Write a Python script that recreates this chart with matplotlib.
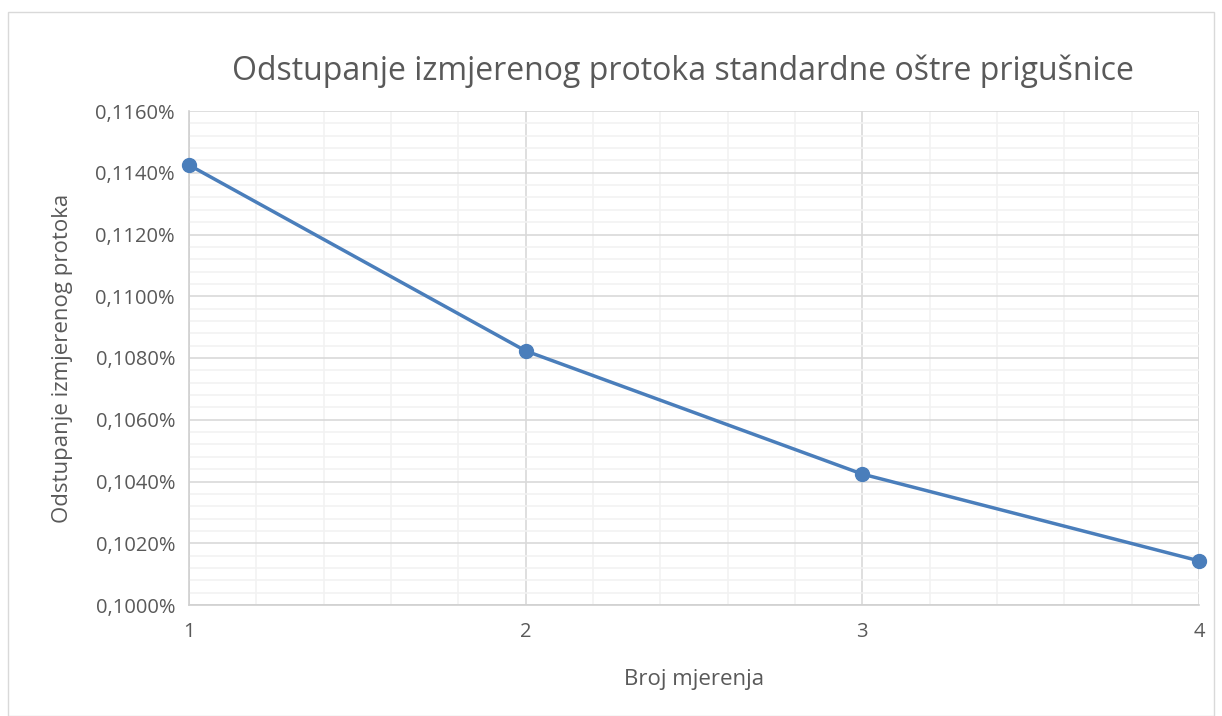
import matplotlib
matplotlib.use("Agg")
import matplotlib.pyplot as plt
from matplotlib.ticker import MultipleLocator, FuncFormatter
from matplotlib.patches import Rectangle

plt.rcParams['font.family'] = ['Open Sans', 'DejaVu Sans']

# data
mjerenja = [1, 2, 3, 4]
odstupanje = [0.0011425, 0.0010823, 0.0010424, 0.0010143]

title = "Odstupanje izmjerenog protoka standardne oštre prigušnice"
xlabel = "Broj mjerenja"
ylabel = "Odstupanje izmjerenog protoka"

txt = "#595959"
blue = "#4a7ebb"

fig = plt.figure(figsize=(12.22, 7.16), dpi=100)
ax = fig.add_axes([189/1222, 1 - 605/716, (1199-189)/1222, (605-111)/716])

# outer chart border
fig.patches.append(Rectangle((8/1222, 0.0), 1 - 16/1222, 1 - 12/716, transform=fig.transFigure,
                             fill=False, edgecolor="#d9d9d9", linewidth=1))

ax.plot(mjerenja, odstupanje, color=blue, linewidth=2.5, marker='o', markersize=10, zorder=5,
        clip_on=False)

ax.set_xlim(1, 4)
ax.set_ylim(0.0010, 0.00116)
ax.xaxis.set_major_locator(MultipleLocator(1))
ax.xaxis.set_minor_locator(MultipleLocator(0.2))
ax.yaxis.set_major_locator(MultipleLocator(0.00002))
ax.yaxis.set_minor_locator(MultipleLocator(0.000004))
ax.yaxis.set_major_formatter(FuncFormatter(lambda v, p: f"{v*100:.4f}%".replace(".", ",")))
ax.xaxis.set_major_formatter(FuncFormatter(lambda v, p: f"{int(round(v))}"))

ax.grid(which='major', color="#d9d9d9", linewidth=1.2)
ax.grid(which='minor', color="#f2f2f2", linewidth=1.2)
ax.set_axisbelow(True)

for s in ['top', 'right']:
    ax.spines[s].set_visible(False)
for s in ['left', 'bottom']:
    ax.spines[s].set_color("#d0d0d0")
    ax.spines[s].set_linewidth(1.2)

ax.tick_params(which='both', length=0, colors=txt, labelsize=14.5)
ax.tick_params(axis='x', pad=12)
ax.tick_params(axis='y', pad=10)

ax.set_title(title, fontsize=23, color=txt, pad=22, x=0.489)
ax.set_xlabel(xlabel, fontsize=16, color=txt, labelpad=20)
ax.set_ylabel(ylabel, fontsize=16, color=txt, labelpad=16)

fig.savefig("out.png", dpi=100)
